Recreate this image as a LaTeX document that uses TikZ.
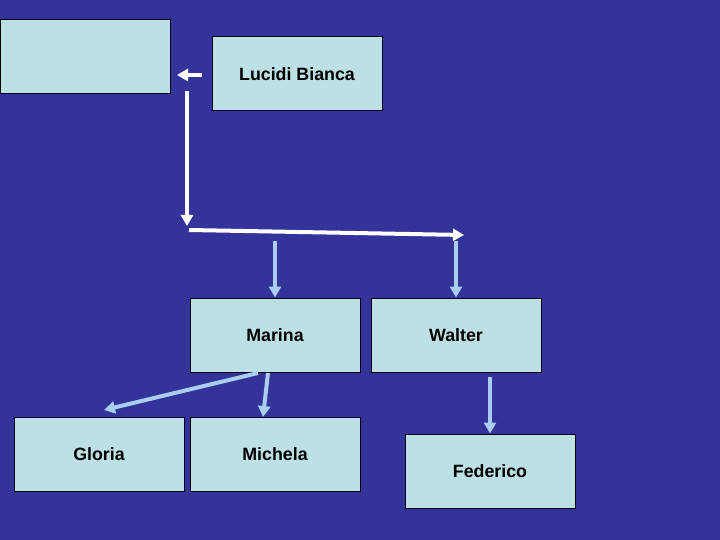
\documentclass[tikz,border=0pt]{standalone}
\usepackage{fontspec}
\setmainfont{Liberation Sans}
\usetikzlibrary{arrows.meta}
\definecolor{bg}{HTML}{333399}
\definecolor{boxfill}{HTML}{BCE0E3}
\definecolor{arrblue}{HTML}{AACDF0}
\tikzset{
  box/.style={draw=black, line width=1pt, fill=boxfill, minimum width=170pt, minimum height=74pt, inner sep=0pt, font=\bfseries\fontsize{17.8}{20}\selectfont},
  warrow/.style={draw=white, line width=4pt, -{Triangle[length=11pt,width=12pt]}},
  barrow/.style={draw=arrblue, line width=4pt, -{Triangle[length=11pt,width=12pt]}}
}
\begin{document}
\begin{tikzpicture}[x=1pt,y=-1pt]
\fill[bg] (0,0) rectangle (720,540);
\useasboundingbox (0,0) rectangle (720,540);
\node[box] (empty) at (85,57) {};
\node[box] (bianca) at (297,74) {Lucidi Bianca};
\node[box] (marina) at (275,335) {Marina};
\node[box] (walter) at (456,335) {Walter};
\node[box] (gloria) at (99,454) {Gloria};
\node[box] (michela) at (275,454) {Michela};
\node[box] (federico) at (490,471) {Federico};
% white connectors
\coordinate (w1s) at (202,75);
\coordinate (w1e) at (177,75);
\coordinate (w2s) at (187,91);
\coordinate (w2e) at (187,226);
\coordinate (w3s) at (189,230);
\coordinate (w3e) at (464,235);
\draw[warrow] (w1s) -- (w1e);
\draw[warrow] (w2s) -- (w2e);
\draw[warrow] (w3s) -- (w3e);
% blue connectors
\coordinate (b1s) at (275,241);
\coordinate (b2s) at (456,241);
\draw[barrow] (b1s) -- (marina.north);
\draw[barrow] (b2s) -- (walter.north);
\coordinate (m1) at (258,373);
\coordinate (m2) at (268,373);
\coordinate (gl) at (104,410);
\coordinate (mi) at (263,417);
\draw[barrow] (m1) -- (gl);
\draw[barrow] (m2) -- (mi);
\coordinate (wf) at (490,377);
\draw[barrow] (wf) -- (federico.north);
\end{tikzpicture}
\end{document}
